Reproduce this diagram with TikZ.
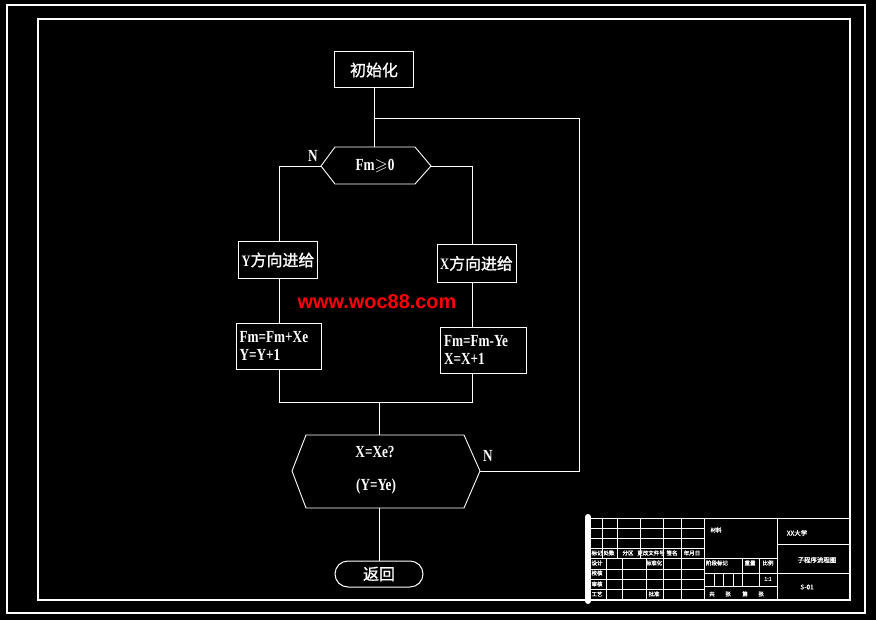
\documentclass[tikz,border=0pt]{standalone}
\usepackage{fontspec}
\usepackage{amssymb}
\setmainfont{Liberation Serif}
\newfontfamily\cjk[FakeBold=1.2]{Noto Sans CJK SC}
\newfontfamily\cad[FakeStretch=0.78]{Liberation Serif}
\newfontfamily\wm{Liberation Sans}
\begin{document}
\begin{tikzpicture}[x=1bp,y=-1bp,
  ln/.style={draw=white, line width=0.9bp},
  bd/.style={draw=white, line width=1.4bp},
  box/.style={draw=white, line width=1bp, inner sep=0pt, text=white},
  cn/.style={text=white, font=\cjk\fontsize{16}{18}\selectfont},
  lt/.style={text=white, font=\cad\bfseries\fontsize{17}{22}\selectfont, align=left},
  tbl/.style={draw=white, line width=0.8bp},
  tb/.style={text=white, font=\cjk\fontsize{5.5}{6}\selectfont, inner sep=0pt},
  tbb/.style={text=white, font=\cjk\fontsize{6.5}{7}\selectfont, inner sep=0pt}]
\useasboundingbox (0,0) rectangle (876,620);
\fill[black] (0,0) rectangle (876,620);
% frames
\draw[bd] (7,5) rectangle (865,613);
\draw[bd] (38,19) rectangle (850,600);

% start box
\node[box, cn, minimum width=79bp, minimum height=36bp] (init) at (374,70) {初始化};

% decision 1
\draw[ln] (321,166) -- (335,147) -- (415,147) -- (431,166) -- (415,184) -- (335,184) -- cycle;
\coordinate (d1t) at (374,147);
\coordinate (d1l) at (321,166);
\coordinate (d1r) at (431,166);
\node[lt] (d1) at (375,166) {Fm$\geqslant$0};
\node[lt] (n1) at (313,156) {N};

% feed boxes
\node[box, cn, minimum width=79bp, minimum height=36bp] (ybox) at (278,260) {{\cad\bfseries Y}方向进给};
\node[box, cn, minimum width=79bp, minimum height=37bp] (xbox) at (476.5,263.5) {{\cad\bfseries X}方向进给};
\node[box, lt, minimum width=85bp, minimum height=46bp, text width=78bp] (fmy) at (278.5,346) {Fm=Fm+Xe\\[-4pt]Y=Y+1};
\node[box, lt, minimum width=86bp, minimum height=46bp, text width=78bp] (fmx) at (483,350) {Fm=Fm-Ye\\[-4pt]X=X+1};

\node[text=red, font=\wm\bfseries\fontsize{20}{20}\selectfont, inner sep=0pt] (wm) at (377,302) {www.woc88.com};

% branch lines
\coordinate (lx) at (279,166);
\coordinate (rx) at (472,166);
\coordinate (jl) at (279,402);
\coordinate (jr) at (472,402);
\coordinate (jm) at (379,402);
\draw[ln] (init.south -| d1t) -- (d1t);
\draw[ln] (d1l) -- (lx) -- (lx |- ybox.north);
\draw[ln] (d1r) -- (rx) -- (rx |- xbox.north);
\draw[ln] (lx |- ybox.south) -- (lx |- fmy.north);
\draw[ln] (rx |- xbox.south) -- (rx |- fmx.north);
\draw[ln] (lx |- fmy.south) -- (jl) -- (jr) -- (rx |- fmx.south);

% decision 2
\draw[ln] (292,471) -- (306,435) -- (464,435) -- (480,471) -- (464,508) -- (306,508) -- cycle;
\coordinate (h2t) at (379,435);
\coordinate (h2b) at (379,508);
\coordinate (h2r) at (480,471);
\node[lt] (h2a) at (375,452) {X=Xe?};
\node[lt] (h2c) at (376,486) {(Y=Ye)};
\node[lt] (n2) at (488,456) {N};
\draw[ln] (jm) -- (h2t);

% loop back
\coordinate (lc) at (579,118);
\coordinate (jt) at (374,118);
\draw[ln] (h2r) -| (lc) -- (jt);

% return
\node[box, cn, minimum width=88bp, minimum height=26bp, rounded corners=13bp] (ret) at (379,574) {返回};
\draw[ln] (h2b) -- (ret.north);

% title block
\draw[white, line width=6bp, line cap=round] (588,517) -- (588,601);
\draw[tbl] (588,518) -- (849,518);
\foreach \yy in {528,538,548,569,579,589} \draw[tbl] (588,\yy) -- (704,\yy);
\draw[tbl] (588,558) -- (777,558);
\draw[tbl] (704,573) -- (777,573);
\draw[tbl] (704,586) -- (777,586);
\draw[tbl] (777,544) -- (849,544);
\draw[tbl] (777,573) -- (849,573);
\foreach \xx in {602,617,640} \draw[tbl] (\xx,518) -- (\xx,558);
\foreach \xx in {606,622,646} \draw[tbl] (\xx,558) -- (\xx,600);
\foreach \xx in {663,681,704,777,849} \draw[tbl] (\xx,518) -- (\xx,600);
\foreach \xx in {742,759} \draw[tbl] (\xx,558) -- (\xx,586);
\foreach \xx in {714,723,733} \draw[tbl] (\xx,573) -- (\xx,586);

\node[tb] (t1) at (597,553) {标记};
\node[tb] (t2) at (609,553) {处数};
\node[tb] (t3) at (628,553) {分区};
\node[tb] (t4) at (651,553) {更改文件号};
\node[tb] (t5) at (672,553) {签名};
\node[tb] (t6) at (692,553) {年月日};
\node[tb] (t7) at (597,563) {设计};
\node[tb] (t8) at (654,563) {标准化};
\node[tb] (t9) at (597,573) {校核};
\node[tb] (t10) at (597,584) {审核};
\node[tb] (t11) at (597,594) {工艺};
\node[tb] (t12) at (654,594) {批准};
\node[tb] (t13) at (716,530) {材料};
\node[tb] (t14) at (717,563) {阶段标记};
\node[tb] (t15) at (750,563) {重量};
\node[tb] (t16) at (768,563) {比例};
\node[tb] (t17) at (768,579) {1:1};
\node[tb] (t18) at (712,594) {共};
\node[tb] (t19) at (728,594) {张};
\node[tb] (t20) at (745,594) {第};
\node[tb] (t21) at (761,594) {张};
\node[tbb] (t22) at (797,533) {XX大学};
\node[tbb] (t23) at (817,560) {子程序流程图};
\node[tbb] (t24) at (807,587) {S-01};
\end{tikzpicture}
\end{document}
